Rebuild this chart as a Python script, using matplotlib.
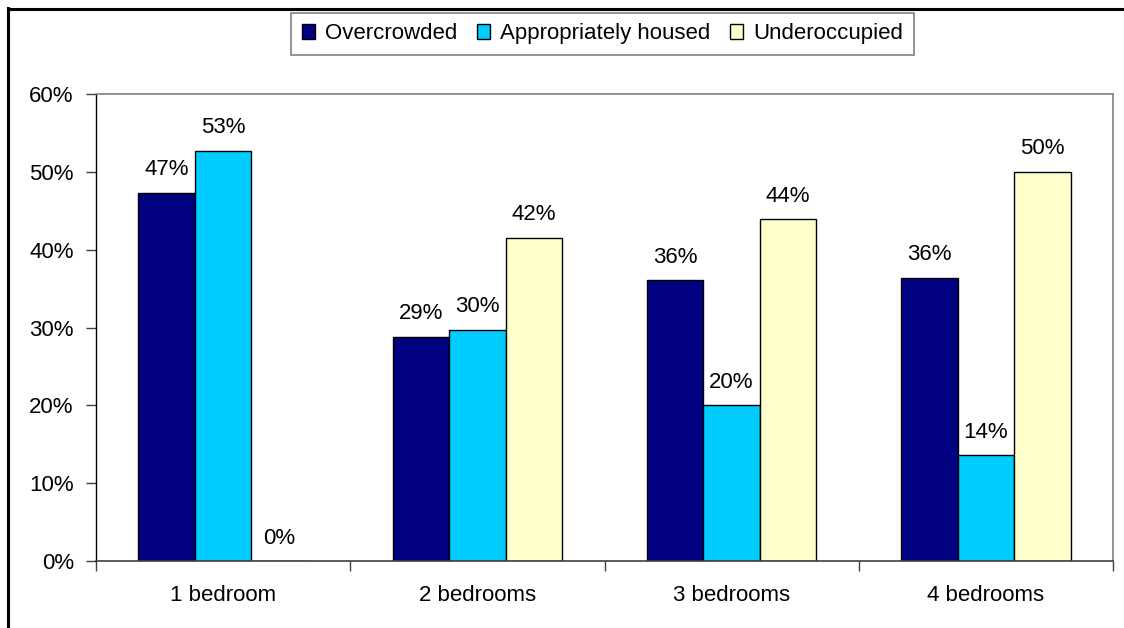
import matplotlib.pyplot as plt
import numpy as np
from matplotlib.lines import Line2D
from matplotlib.ticker import FixedLocator, PercentFormatter

# household occupancy by property size (% of households)
categories = ['1 bedroom', '2 bedrooms', '3 bedrooms', '4 bedrooms']
series = ['Overcrowded', 'Appropriately housed', 'Underoccupied']
overcrowded = [47.3, 28.8, 36.1, 36.4]
appropriate = [52.7, 29.7, 20.0, 13.6]
underoccupied = [0.0, 41.5, 43.9, 50.0]
colours = ['#000080', '#00CCFF', '#FFFFCC']

plt.rcParams['font.family'] = ['Liberation Sans', 'DejaVu Sans']
plt.rcParams['font.size'] = 16

fig = plt.figure(figsize=(11.24, 6.28), dpi=100)
ax = fig.add_axes([96/1124, 1-561/628, (1113-96)/1124, (561-94)/628])

x = np.arange(len(categories))
w = 1/4.5  # three bars + 150% gap
for i, (vals, name, col) in enumerate(zip([overcrowded, appropriate, underoccupied], series, colours)):
    bars = ax.bar(x + (i-1)*w, vals, width=w, color=col, edgecolor='black', linewidth=1.0, label=name)
    for b, v in zip(bars, vals):
        ax.annotate('%d%%' % round(v), (b.get_x() + b.get_width()/2, v),
                    xytext=(0, 9), textcoords='offset points', ha='center', va='bottom', fontsize=16)

ax.set_xlim(-0.5, len(categories)-0.5)
ax.set_ylim(0, 60)
ax.yaxis.set_major_locator(FixedLocator(np.arange(0, 61, 10)))
ax.yaxis.set_major_formatter(PercentFormatter(decimals=0))
ax.set_xticks(x)
ax.set_xticklabels(categories)
ax.xaxis.set_minor_locator(FixedLocator(np.arange(-0.5, len(categories), 1.0)))
ax.tick_params(axis='x', which='major', length=0, pad=17)
ax.tick_params(axis='x', which='minor', length=7, width=1, color='#404040', direction='out')
ax.tick_params(axis='y', length=7, width=1, color='#404040', direction='out', pad=9)

for s in ['top', 'right']:
    ax.spines[s].set_color('#808080')
    ax.spines[s].set_linewidth(1.2)
ax.spines['left'].set_color('black')
ax.spines['bottom'].set_color('#404040')
ax.spines['left'].set_linewidth(1.0)
ax.spines['bottom'].set_linewidth(1.2)

leg = fig.legend(loc='center', bbox_to_anchor=(0.536, 0.946), bbox_transform=fig.transFigure,
                 ncol=3, frameon=True, fancybox=False, handlelength=0.62, handleheight=0.62,
                 handletextpad=0.45, columnspacing=0.85, borderpad=0.48, fontsize=16)
leg.get_frame().set_edgecolor('#606060')
leg.get_frame().set_linewidth(1.2)

# chart border (left and top edges)
fig.add_artist(Line2D([8/1124, 8/1124], [0, 1-8/628], color='black', linewidth=2.2, transform=fig.transFigure))
fig.add_artist(Line2D([8/1124, 1], [1-9/628, 1-9/628], color='black', linewidth=2.2, transform=fig.transFigure))

fig.savefig('out.png', dpi=100)
